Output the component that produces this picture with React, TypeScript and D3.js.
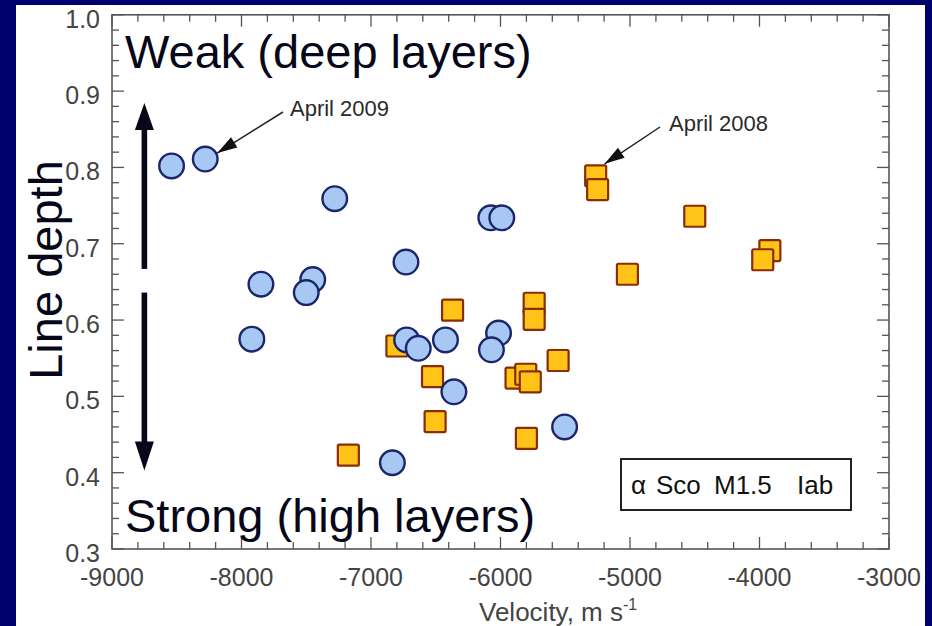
import React from "react";
import * as d3 from "d3";

// Alpha Sco line-depth vs velocity measurements
const circleVelocity = [-8540, -8280, -7280, -7850, -7450, -7500, -7920, -6730, -6075, -5990, -6725, -6635, -6425, -6015, -6070, -6360, -5505, -6835];
const circleDepth = [0.802, 0.811, 0.759, 0.647, 0.653, 0.636, 0.575, 0.676, 0.734, 0.734, 0.574, 0.563, 0.574, 0.583, 0.561, 0.506, 0.460, 0.413];

const squareVelocity = [-5265, -5250, -4500, -5020, -3920, -3975, -6370, -5740, -5740, -6800, -6525, -5555, -5880, -5805, -5770, -6505, -5800, -7175];
const squareDepth = [0.789, 0.771, 0.736, 0.660, 0.691, 0.679, 0.613, 0.622, 0.601, 0.566, 0.526, 0.547, 0.524, 0.529, 0.519, 0.467, 0.445, 0.423];

const xTicks = [-9000, -8000, -7000, -6000, -5000, -4000, -3000];
const yTicks = [0.3, 0.4, 0.5, 0.6, 0.7, 0.8, 0.9, 1.0];

const W = 932;
const H = 626;
const left = 112;
const right = 889;
const top = 14.8;
const bottom = 549;

const FONT = "'Liberation Sans', Arial, Helvetica, sans-serif";
const NAVY = "#00006e";
const INK = "#07071a";

function arrowHead(x1: number, y1: number, x2: number, y2: number, len: number, half: number) {
  const a = Math.atan2(y2 - y1, x2 - x1);
  const bx = x2 - len * Math.cos(a);
  const by = y2 - len * Math.sin(a);
  const px = -Math.sin(a) * half;
  const py = Math.cos(a) * half;
  return `M${x2},${y2}L${bx + px},${by + py}L${bx - px},${by - py}Z`;
}

export default function App() {
  const x = d3.scaleLinear().domain([-9000, -3000]).range([left, right]);
  const y = d3.scaleLinear().domain([0.3, 1.0]).range([bottom, top]);

  const xMinor = d3.range(-9000, -3000 + 1, 200);
  const yMinor = d3.range(0, 36).map((i) => 0.3 + i * 0.02);
  const isMajorX = (v: number) => Math.abs(v / 1000 - Math.round(v / 1000)) < 1e-6;
  const isMajorY = (v: number) => Math.abs(v * 10 - Math.round(v * 10)) < 1e-6;

  const axisColor = "#555";

  // big double-headed arrow (split in the middle)
  const ax = x(-8750);
  const upTip = y(0.8845);
  const upEnd = y(0.667);
  const dnStart = y(0.636);
  const dnTip = y(0.403);

  // annotation arrows
  const a09 = { x1: 283, y1: 112, x2: x(-8280) + 12, y2: y(0.811) - 6 };
  const a08 = { x1: 660, y1: 127, x2: x(-5265) + 9, y2: y(0.789) - 12 };

  return (
    <svg width={W} height={H} style={{ position: "absolute", left: 0, top: 0 }} fontFamily={FONT}>
      <rect x={0} y={0} width={W} height={H} fill={NAVY} />
      <rect x={16} y={5} width={909} height={H - 5} fill="#ffffff" />

      {/* ticks on all four sides, pointing inward */}
      <g stroke={axisColor} strokeWidth={1.3}>
        {xMinor.map((v) => {
          const len = isMajorX(v) ? 12 : 7;
          return (
            <g key={`xt${v}`}>
              <line x1={x(v)} x2={x(v)} y1={bottom} y2={bottom - len} />
              <line x1={x(v)} x2={x(v)} y1={top} y2={top + len} />
            </g>
          );
        })}
        {yMinor.map((v) => {
          const len = isMajorY(v) ? 12 : 7;
          return (
            <g key={`yt${v.toFixed(2)}`}>
              <line x1={left} x2={left + len} y1={y(v)} y2={y(v)} />
              <line x1={right} x2={right - len} y1={y(v)} y2={y(v)} />
            </g>
          );
        })}
      </g>
      <rect x={left} y={top} width={right - left} height={bottom - top} fill="none" stroke={axisColor} strokeWidth={1.6} />

      {/* tick labels */}
      <g fill="#444" fontSize={25}>
        {xTicks.map((v) => (
          <text key={`xl${v}`} x={x(v)} y={586} textAnchor="middle">
            {d3.format("d")(v).replace("−", "-")}
          </text>
        ))}
        {yTicks.map((v) => (
          <text key={`yl${v}`} x={100} y={y(v) + 13} textAnchor="end">
            {v.toFixed(1)}
          </text>
        ))}
      </g>

      {/* axis titles */}
      <text x={479} y={621} fontSize={26} fill="#444">
        Velocity, m s
        <tspan fontSize={16} dy={-11}>-1</tspan>
      </text>
      <text transform={`translate(61.5,270) rotate(-90)`} textAnchor="middle" fontSize={47} fill={INK}>
        Line depth
      </text>

      {/* squares first, circles on top */}
      <g>
        {squareVelocity.map((v, i) => (
          <rect
            key={`s${i}`}
            x={x(v) - 10.5}
            y={y(squareDepth[i]) - 10.5}
            width={21}
            height={21}
            rx={1.5}
            fill="#ffc417"
            stroke="#8a2c06"
            strokeWidth={2.2}
          />
        ))}
      </g>
      <g>
        {circleVelocity.map((v, i) => (
          <circle
            key={`c${i}`}
            cx={x(v)}
            cy={y(circleDepth[i])}
            r={12.3}
            fill="#a8c8f4"
            stroke="#1b256a"
            strokeWidth={2.4}
          />
        ))}
      </g>

      {/* strength arrows */}
      <g fill={INK}>
        <rect x={ax - 2.8} y={upTip + 20} width={5.6} height={upEnd - upTip - 20} />
        <path d={`M${ax},${upTip}L${ax - 9.5},${upTip + 27}L${ax + 9.5},${upTip + 27}Z`} />
        <rect x={ax - 2.8} y={dnStart} width={5.6} height={dnTip - dnStart - 20} />
        <path d={`M${ax},${dnTip}L${ax - 9.5},${dnTip - 29}L${ax + 9.5},${dnTip - 29}Z`} />
      </g>

      <text x={125} y={68} fontSize={47} fill={INK}>
        Weak (deep layers)
      </text>
      <text x={125} y={532} fontSize={47} fill={INK}>
        Strong (high layers)
      </text>

      {/* epoch annotations */}
      <g stroke="#222" strokeWidth={1.5}>
        <line x1={a09.x1} y1={a09.y1} x2={a09.x2} y2={a09.y2} />
        <line x1={a08.x1} y1={a08.y1} x2={a08.x2} y2={a08.y2} />
      </g>
      <g fill="#111">
        <path d={arrowHead(a09.x1, a09.y1, a09.x2, a09.y2, 20, 6)} />
        <path d={arrowHead(a08.x1, a08.y1, a08.x2, a08.y2, 20, 6)} />
      </g>
      <g fontSize={22} fill="#2a2a2a">
        <text x={290} y={115.5}>April 2009</text>
        <text x={669} y={131}>April 2008</text>
      </g>

      {/* star label */}
      <rect x={621} y={459} width={230} height={51} fill="#fff" stroke="#222" strokeWidth={2} />
      <g fontSize={26} fill="#111">
        <text x={631} y={494}>α</text>
        <text x={656} y={494}>Sco</text>
        <text x={714} y={494}>M1.5</text>
        <text x={797} y={494}>Iab</text>
      </g>
    </svg>
  );
}
